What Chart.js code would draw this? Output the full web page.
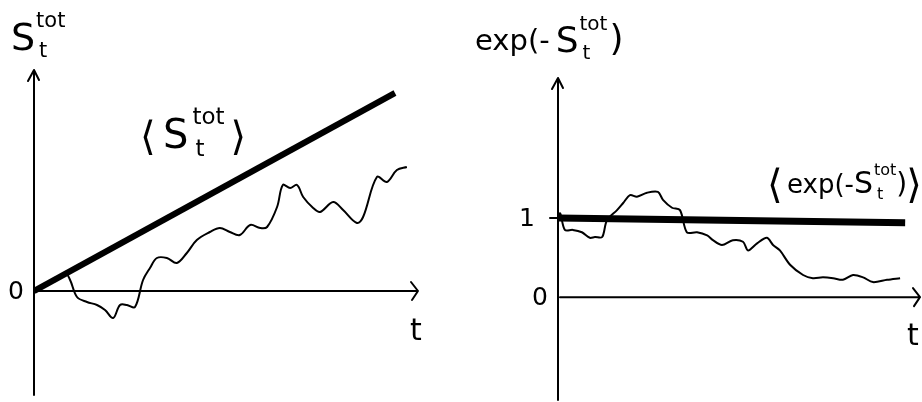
<!DOCTYPE html>
<html>
<head>
<meta charset="utf-8">
<script src="https://cdn.jsdelivr.net/npm/chart.js@4.4.1/dist/chart.umd.min.js"></script>
<style>
body{margin:0;background:#fff;}
#wrap{position:relative;width:922px;height:402px;}
canvas{position:absolute;top:0;}
#leftChart{left:0;}
#rightChart{left:461px;}
</style>
</head>
<body>
<div id="wrap">
  <canvas id="leftChart" width="461" height="402"></canvas>
  <canvas id="rightChart" width="461" height="402"></canvas>
</div>
<script>
// left panel: S_t^tot, one trajectory and its mean
var leftMeanT = [0, 9.4];
var leftMeanS = [0, 3.96];
var leftWalkT = [0, 0.42, 0.81, 0.94, 1.12, 1.38, 1.64, 1.85, 2.06, 2.24, 2.42, 2.63, 2.84, 3.02, 3.20, 3.46, 3.72, 3.98, 4.24, 4.58, 4.84, 5.10, 5.36, 5.63, 5.89, 6.07, 6.33, 6.48, 6.67, 6.85, 7.01, 7.27, 7.45, 7.79, 8.05, 8.41, 8.57, 8.93, 9.19, 9.45, 9.71];
var leftWalkS = [0, 0.16, 0.36, 0.22, -0.12, -0.22, -0.28, -0.38, -0.54, -0.28, -0.28, -0.32, 0.22, 0.46, 0.66, 0.66, 0.56, 0.76, 1.02, 1.18, 1.26, 1.18, 1.12, 1.32, 1.26, 1.28, 1.68, 2.12, 2.06, 2.12, 1.88, 1.66, 1.58, 1.78, 1.62, 1.36, 1.48, 2.28, 2.18, 2.42, 2.48];

// right panel: exp(-S_t^tot)
var rightMeanT = [-0.08, 9.59];
var rightMeanE = [1.0, 0.94];
var rightWalkT = [0, 0.06, 0.19, 0.41, 0.66, 0.88, 1.02, 1.22, 1.35, 1.63, 1.80, 1.99, 2.18, 2.46, 2.76, 2.90, 3.15, 3.37, 3.56, 3.84, 4.12, 4.28, 4.53, 4.83, 5.11, 5.25, 5.50, 5.77, 5.94, 6.13, 6.41, 6.77, 7.04, 7.32, 7.60, 7.87, 8.15, 8.43, 8.70, 9.09, 9.45];
var rightWalkE = [1.0, 1.06, 0.85, 0.85, 0.82, 0.75, 0.76, 0.76, 0.97, 1.10, 1.19, 1.29, 1.27, 1.32, 1.33, 1.23, 1.13, 1.10, 0.82, 0.82, 0.78, 0.72, 0.66, 0.72, 0.70, 0.59, 0.68, 0.75, 0.66, 0.59, 0.41, 0.28, 0.24, 0.25, 0.24, 0.22, 0.28, 0.25, 0.19, 0.22, 0.24];

var leftTicks = [0];
var rightTicks = [0, 1];

var font = '"DejaVu Sans", sans-serif';

function toPoints(xs, ys){
  return xs.map(function(x, i){ return {x: x, y: ys[i]}; });
}

// draws S with ^tot and _t, y is the baseline
function drawStot(ctx, x, y, size, small, gap){
  gap = gap || 1;
  ctx.font = size + "px " + font;
  ctx.fillText("S", x, y);
  var w = ctx.measureText("S").width;
  ctx.font = small + "px " + font;
  ctx.fillText("tot", x + w + gap, y - size * 0.6);
  ctx.fillText("t", x + w + gap + 3, y + small * 0.35);
  return x + w + gap + ctx.measureText("tot").width;
}

function axesPlugin(ticks, labels){
  return {
    id: "sketchAxes",
    beforeDatasetsDraw: function(chart){
      var ctx = chart.ctx, a = chart.chartArea;
      var x0 = chart.scales.x.getPixelForValue(0);
      var y0 = chart.scales.y.getPixelForValue(0);
      ctx.save();
      ctx.strokeStyle = "#000";
      ctx.lineWidth = 2;
      ctx.lineCap = "round";
      ctx.lineJoin = "round";
      ctx.beginPath();
      ctx.moveTo(x0, a.bottom);
      ctx.lineTo(x0, a.top);
      ctx.moveTo(x0 - 6, a.top + 11);
      ctx.lineTo(x0, a.top);
      ctx.lineTo(x0 + 5, a.top + 10);
      ctx.moveTo(x0 + 2, y0);
      ctx.lineTo(a.right, y0);
      ctx.moveTo(a.right - 7, y0 - 9);
      ctx.lineTo(a.right, y0);
      ctx.lineTo(a.right - 6, y0 + 9);
      ctx.stroke();
      ctx.fillStyle = "#000";
      ctx.font = "25px " + font;
      ctx.textAlign = "right";
      ctx.textBaseline = "middle";
      ticks.forEach(function(v){
        var ty = chart.scales.y.getPixelForValue(v);
        ctx.fillText(String(v), x0 - (v === 0 ? 10 : 23), ty + 1);
      });
      ctx.textAlign = "left";
      ctx.textBaseline = "alphabetic";
      labels(ctx, chart);
      ctx.restore();
    }
  };
}

new Chart("leftChart", {
  type: "line",
  data: {
    datasets: [{
      data: toPoints(leftMeanT, leftMeanS),
      borderColor: "#000",
      borderWidth: 6,
      pointRadius: 0
    }, {
      data: toPoints(leftWalkT, leftWalkS),
      borderColor: "#000",
      borderWidth: 2,
      pointRadius: 0,
      tension: 0.35
    }]
  },
  options: {
    responsive: false,
    animation: false,
    layout: {padding: {left: 34, right: 43, top: 70, bottom: 7}},
    plugins: {legend: {display: false}, tooltip: {enabled: false}},
    scales: {
      x: {type: "linear", min: 0, max: 10, display: false},
      y: {min: -2.08, max: 4.42, display: false}
    }
  },
  plugins: [axesPlugin(leftTicks, function(ctx){
    drawStot(ctx, 11, 50, 38, 21);
    ctx.font = "30px " + font;
    ctx.fillText("t", 410, 340);
    ctx.font = "40px " + font;
    ctx.fillText("\u27E8", 140, 150);
    var e = drawStot(ctx, 163, 148, 40, 23, 4);
    ctx.font = "40px " + font;
    ctx.fillText("\u27E9", e + 6, 150);
  })]
});

new Chart("rightChart", {
  type: "line",
  data: {
    datasets: [{
      data: toPoints(rightMeanT, rightMeanE),
      borderColor: "#000",
      borderWidth: 7,
      pointRadius: 0
    }, {
      data: toPoints(rightWalkT, rightWalkE),
      borderColor: "#000",
      borderWidth: 2,
      pointRadius: 0,
      tension: 0.3
    }]
  },
  options: {
    responsive: false,
    animation: false,
    layout: {padding: {left: 97, right: 2, top: 78, bottom: 2}},
    plugins: {legend: {display: false}, tooltip: {enabled: false}},
    scales: {
      x: {type: "linear", min: 0, max: 10, display: false},
      y: {min: -1.30, max: 2.77, display: false}
    }
  },
  plugins: [axesPlugin(rightTicks, function(ctx, chart){
    var x0 = chart.scales.x.getPixelForValue(0);
    var y1 = chart.scales.y.getPixelForValue(1);
    ctx.beginPath();
    ctx.moveTo(x0 - 8, y1);
    ctx.lineTo(x0, y1);
    ctx.stroke();
    ctx.font = "29px " + font;
    ctx.fillText("exp(-", 14, 50);
    var w = ctx.measureText("exp(-").width;
    var e = drawStot(ctx, 14 + w + 6, 52, 36, 20);
    ctx.font = "36px " + font;
    ctx.fillText(")", e + 2, 50);
    ctx.font = "30px " + font;
    ctx.fillText("t", 446, 345);
    ctx.font = "40px " + font;
    ctx.fillText("\u27E8", 306, 198);
    ctx.font = "26px " + font;
    ctx.fillText("exp(-", 326, 193);
    var w2 = ctx.measureText("exp(-").width;
    var e2 = drawStot(ctx, 326 + w2, 193, 30, 16);
    ctx.font = "28px " + font;
    ctx.fillText(")", e2, 193);
    ctx.font = "40px " + font;
    ctx.fillText("\u27E9", e2 + 10, 198);
  })]
});
</script>
</body>
</html>
